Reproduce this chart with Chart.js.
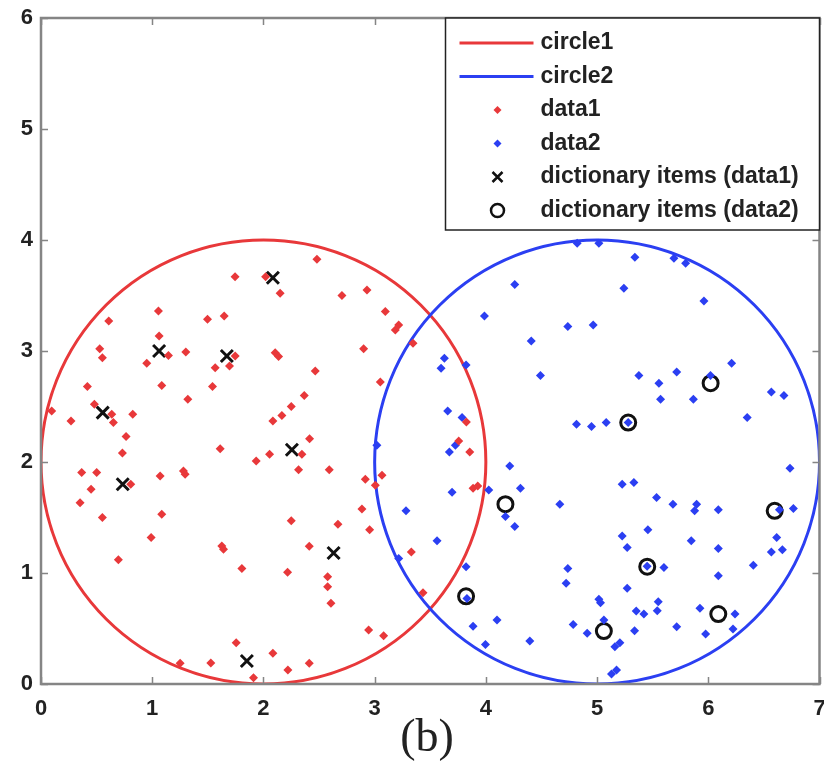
<!DOCTYPE html>
<html>
<head>
<meta charset="utf-8">
<script src="https://cdn.jsdelivr.net/npm/chart.js@4.4.1/dist/chart.umd.min.js"></script>
<style>
  body { margin: 0; background: #fff; overflow: hidden; }
  #wrap { position: relative; width: 824px; height: 767px; overflow: hidden; }
  #caption {
    position: absolute; left: 377px; width: 100px; top: 708px;
    text-align: center; font-family: 'Liberation Serif', serif;
    font-size: 46px; line-height: 56px; color: #222;
  }
</style>
</head>
<body>
<div id="wrap">
  <canvas id="myChart" width="831" height="767"></canvas>
  <div id="caption">(b)</div>
</div>
<script>
// circles (center + radius, in data units)
const circleLabels = ['circle1', 'circle2'];
const circleCx = [2, 5];
const circleCy = [2, 2];
const circleR = [2, 2];

// data1 (red points)
const data1X = [1.745, 2.02, 2.15, 1.056, 1.497, 1.647, 0.609, 1.062, 1.146, 1.302, 0.528, 0.552, 0.951, 1.746, 1.695, 1.566, 2.106, 2.136,
  1.086, 1.542, 0.417, 1.32, 0.48, 0.636, 0.651, 0.825, 0.27, 0.096, 0.765, 0.732, 1.611, 1.935, 2.055, 2.085, 0.366, 0.501, 0.807, 0.45,
  0.351, 0.552, 1.071, 1.281, 1.296, 1.086, 0.99, 0.696, 1.626, 1.641, 1.806, 1.755, 2.085, 1.527, 1.251, 1.911, 2.481, 2.706, 2.931, 3.096,
  3.186, 3.216, 3.345, 2.901, 2.466, 3.051, 2.367, 2.25, 2.166, 2.415, 2.346, 3.825, 3.756, 3.855, 2.316, 2.592, 2.916, 3.066, 3.006, 2.886,
  2.955, 2.25, 2.67, 2.412, 2.217, 2.577, 2.577, 2.607, 3.33, 3.435, 2.946, 3.081, 2.412, 2.22, 3.885, 3.927];
const data1Y = [3.67, 3.67, 3.52, 3.36, 3.285, 3.315, 3.27, 3.135, 2.96, 2.99, 3.02, 2.94, 2.89, 2.955, 2.865, 2.85, 2.985, 2.95,
  2.69, 2.68, 2.68, 2.565, 2.52, 2.43, 2.355, 2.43, 2.37, 2.46, 2.23, 2.08, 2.12, 2.01, 2.07, 2.37, 1.905, 1.905, 1.80, 1.755,
  1.633, 1.50, 1.874, 1.92, 1.89, 1.53, 1.32, 1.12, 1.243, 1.213, 1.04, 0.372, 0.276, 0.19, 0.186, 0.057, 3.826, 3.50, 3.55, 3.355,
  3.19, 3.235, 3.07, 3.02, 2.82, 2.72, 2.60, 2.50, 2.42, 2.21, 2.07, 2.36, 2.19, 2.09, 1.93, 1.93, 1.845, 1.88, 1.79, 1.577,
  1.39, 1.47, 1.44, 1.24, 1.006, 0.967, 0.877, 0.727, 1.19, 0.823, 0.486, 0.435, 0.186, 0.126, 1.763, 1.784];

// data2 (blue points)
const data2X = [3.987, 3.627, 3.597, 3.822, 3.657, 3.786, 3.726, 3.672, 3.02, 3.696, 3.282, 3.561, 3.216, 3.822, 3.885, 3.996, 4.026, 4.10,
  4.821, 5.016, 5.34, 5.691, 5.796, 4.26, 5.241, 5.961, 4.737, 4.965, 4.408, 4.491, 5.376, 5.716, 5.556, 6.21, 5.571, 5.866, 6.567, 6.68,
  6.35, 4.815, 4.95, 5.082, 5.28, 4.215, 6.735, 4.311, 4.176, 4.26, 4.665, 5.226, 5.331, 5.535, 5.682, 5.895, 5.877, 6.09, 6.64, 6.765,
  5.457, 5.226, 5.271, 5.847, 6.09, 6.615, 6.567, 6.666, 6.405, 5.601, 4.737, 4.722, 6.09, 5.271, 5.016, 5.031, 5.55, 5.541, 5.352, 5.421,
  5.925, 6.24, 6.222, 5.976, 5.716, 5.337, 5.061, 4.785, 4.911, 4.395, 5.16, 5.205, 5.13, 5.175, 5.45, 3.83, 6.02];
const data2Y = [3.315, 2.935, 2.845, 2.875, 2.46, 2.40, 2.15, 2.09, 2.15, 1.727, 1.56, 1.29, 1.13, 1.057, 0.52, 0.356, 1.747, 0.576,
  3.97, 3.97, 3.845, 3.835, 3.79, 3.60, 3.565, 3.45, 3.22, 3.235, 3.09, 2.78, 2.78, 2.81, 2.71, 2.89, 2.565, 2.565, 2.63, 2.60,
  2.40, 2.34, 2.32, 2.355, 2.355, 1.964, 1.943, 1.763, 1.51, 1.42, 1.62, 1.80, 1.815, 1.68, 1.62, 1.62, 1.56, 1.57, 1.57, 1.58,
  1.39, 1.334, 1.23, 1.29, 1.22, 1.32, 1.19, 1.21, 1.07, 1.05, 1.04, 0.907, 0.976, 0.862, 0.763, 0.732, 0.741, 0.66, 0.658, 0.63,
  0.682, 0.63, 0.495, 0.45, 0.516, 0.48, 0.576, 0.537, 0.457, 0.387, 0.336, 0.372, 0.09, 0.126, 1.06, 0.77, 2.78];

// dictionary items
const dict1X = [2.085, 1.062, 1.671, 0.555, 0.735, 2.256, 2.631, 1.851];
const dict1Y = [3.66, 3.0, 2.955, 2.445, 1.80, 2.11, 1.18, 0.207];
const dict2X = [3.822, 4.176, 5.28, 6.021, 6.597, 5.451, 6.09, 5.061];
const dict2Y = [0.79, 1.62, 2.355, 2.71, 1.56, 1.057, 0.63, 0.477];

const RED = '#e8383a';
const BLUE = '#2b3ff2';
const AXIS = '#858585';

function pts(xs, ys) {
  return xs.map((x, i) => ({ x: x, y: ys[i] }));
}

// circles drawn from center/radius through the scales
const circlePlugin = {
  id: 'circles',
  beforeDatasetsDraw(chart) {
    const ctx = chart.ctx, a = chart.chartArea;
    const sx = chart.scales.x, sy = chart.scales.y;
    ctx.save();
    ctx.beginPath();
    ctx.rect(a.left, a.top, a.right - a.left, a.bottom - a.top);
    ctx.clip();
    const colors = [RED, BLUE];
    for (let i = 0; i < circleCx.length; i++) {
      const cx = sx.getPixelForValue(circleCx[i]);
      const cy = sy.getPixelForValue(circleCy[i]);
      const rx = Math.abs(sx.getPixelForValue(circleCx[i] + circleR[i]) - cx);
      const ry = Math.abs(sy.getPixelForValue(circleCy[i] + circleR[i]) - cy);
      ctx.beginPath();
      ctx.ellipse(cx, cy, rx, ry, 0, 0, Math.PI * 2);
      ctx.strokeStyle = colors[i];
      ctx.lineWidth = 3;
      ctx.stroke();
    }
    ctx.restore();
  }
};

// matlab style box with inward ticks
const boxPlugin = {
  id: 'box',
  afterDatasetsDraw(chart) {
    const ctx = chart.ctx, a = chart.chartArea;
    ctx.save();
    ctx.strokeStyle = AXIS;
    ctx.lineWidth = 1.5;
    ctx.beginPath();
    chart.scales.x.ticks.forEach(t => {
      const px = Math.round(chart.scales.x.getPixelForValue(t.value)) + 0.5;
      ctx.moveTo(px, a.bottom); ctx.lineTo(px, a.bottom - 7);
      ctx.moveTo(px, a.top); ctx.lineTo(px, a.top + 7);
    });
    chart.scales.y.ticks.forEach(t => {
      const py = Math.round(chart.scales.y.getPixelForValue(t.value)) + 0.5;
      ctx.moveTo(a.left, py); ctx.lineTo(a.left + 7, py);
      ctx.moveTo(a.right, py); ctx.lineTo(a.right - 7, py);
    });
    ctx.stroke();
    ctx.lineWidth = 2.5;
    ctx.strokeRect(a.left, a.top, a.right - a.left, a.bottom - a.top);
    ctx.restore();
  }
};

// legend box in the top right corner
const legendItems = [
  { label: circleLabels[0], kind: 'line', color: RED },
  { label: circleLabels[1], kind: 'line', color: BLUE },
  { label: 'data1', kind: 'dot', color: RED },
  { label: 'data2', kind: 'dot', color: BLUE },
  { label: 'dictionary items (data1)', kind: 'cross', color: '#111' },
  { label: 'dictionary items (data2)', kind: 'ring', color: '#111' }
];
const legendPlugin = {
  id: 'boxLegend',
  afterDraw(chart) {
    const ctx = chart.ctx, a = chart.chartArea;
    const w = 374, h = 212;
    const x0 = a.right - w, y0 = a.top;
    ctx.save();
    ctx.fillStyle = '#fff';
    ctx.fillRect(x0, y0, w, h);
    ctx.strokeStyle = '#222';
    ctx.lineWidth = 1.5;
    ctx.strokeRect(x0, y0, w, h);
    ctx.font = 'bold 23px "Liberation Sans", Arial, sans-serif';
    ctx.textBaseline = 'middle';
    legendItems.forEach((it, i) => {
      const cy = y0 + 25 + i * 33.5;
      const mx = x0 + 52;
      ctx.strokeStyle = it.color;
      ctx.fillStyle = it.color;
      if (it.kind === 'line') {
        ctx.lineWidth = 3;
        ctx.beginPath(); ctx.moveTo(x0 + 14, cy); ctx.lineTo(x0 + 88, cy); ctx.stroke();
      } else if (it.kind === 'dot') {
        ctx.beginPath();
        ctx.moveTo(mx, cy - 4); ctx.lineTo(mx + 4, cy); ctx.lineTo(mx, cy + 4); ctx.lineTo(mx - 4, cy);
        ctx.closePath(); ctx.fill();
      } else if (it.kind === 'cross') {
        ctx.lineWidth = 2.5;
        ctx.beginPath();
        ctx.moveTo(mx - 5, cy - 5); ctx.lineTo(mx + 5, cy + 5);
        ctx.moveTo(mx + 5, cy - 5); ctx.lineTo(mx - 5, cy + 5);
        ctx.stroke();
      } else {
        ctx.lineWidth = 2.5;
        ctx.beginPath(); ctx.arc(mx, cy, 6.5, 0, Math.PI * 2); ctx.stroke();
      }
      ctx.fillStyle = '#222';
      ctx.fillText(it.label, x0 + 95, cy);
    });
    ctx.restore();
  }
};

const tickFont = { family: '"Liberation Sans", Arial, sans-serif', size: 22, weight: 'bold' };

new Chart(document.getElementById('myChart'), {
  type: 'scatter',
  data: {
    datasets: [
      { label: 'data1', data: pts(data1X, data1Y), pointStyle: 'rectRot', pointRadius: 4.5,
        backgroundColor: RED, borderColor: RED, borderWidth: 0 },
      { label: 'data2', data: pts(data2X, data2Y), pointStyle: 'rectRot', pointRadius: 4.5,
        backgroundColor: BLUE, borderColor: BLUE, borderWidth: 0 },
      { label: 'dictionary items (data1)', data: pts(dict1X, dict1Y), pointStyle: 'crossRot', pointRadius: 8.5,
        borderColor: '#111', borderWidth: 3 },
      { label: 'dictionary items (data2)', data: pts(dict2X, dict2Y), pointStyle: 'circle', pointRadius: 7.5,
        backgroundColor: 'rgba(0,0,0,0)', borderColor: '#111', borderWidth: 3 }
    ]
  },
  options: {
    responsive: false,
    animation: false,
    events: [],
    layout: { padding: { left: 0, right: 0, top: 18, bottom: 43 } },
    scales: {
      x: {
        type: 'linear', min: 0, max: 7,
        grid: { display: false, drawTicks: false },
        border: { display: false },
        ticks: { stepSize: 1, font: tickFont, color: '#222', padding: 12 },
        afterFit: s => { s.height = 40; s.paddingLeft = 0; s.paddingRight = 0; }
      },
      y: {
        type: 'linear', min: 0, max: 6,
        grid: { display: false, drawTicks: false },
        border: { display: false },
        ticks: { stepSize: 1, font: tickFont, color: '#222', padding: 8 },
        afterFit: s => { s.width = 41; s.paddingTop = 0; s.paddingBottom = 0; }
      }
    },
    plugins: {
      legend: { display: false },
      tooltip: { enabled: false }
    }
  },
  plugins: [circlePlugin, boxPlugin, legendPlugin]
});
</script>
</body>
</html>
